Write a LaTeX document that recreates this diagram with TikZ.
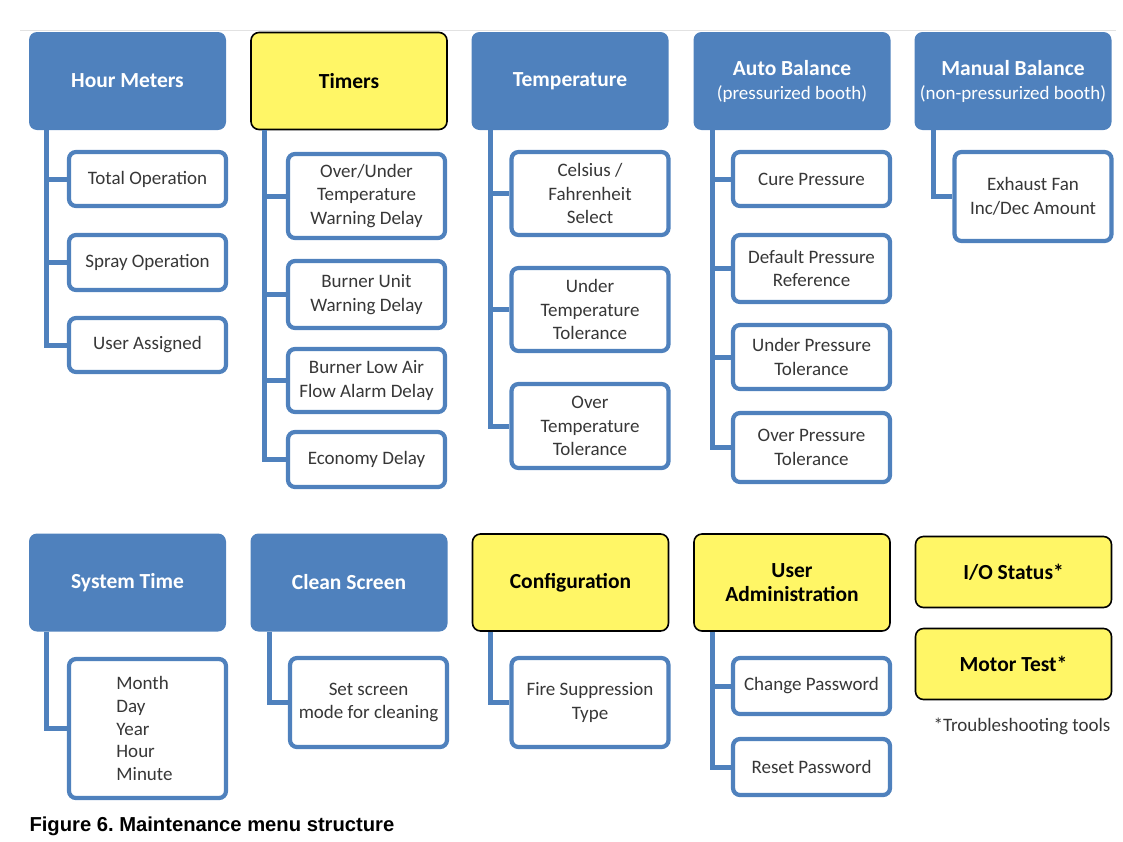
\documentclass[tikz,border=0pt]{standalone}
\usepackage{fontspec}
\setmainfont{Carlito}
\newfontfamily\capfont{Liberation Sans}
\usetikzlibrary{positioning}
\definecolor{menublue}{RGB}{79,129,189}
\definecolor{menuyellow}{RGB}{255,246,102}
\definecolor{itemtext}{RGB}{55,55,55}
\definecolor{edgegray}{RGB}{226,226,226}
\frenchspacing
\begin{document}
\begin{tikzpicture}[x=1pt,y=-1pt]
\tikzset{menu/.style = {shape=rectangle,rounded corners=8pt,fill=menublue,text=white,minimum width=197pt,minimum height=98pt,align=center,font=\fontsize{21.5}{24}\selectfont\bfseries}}
\tikzset{tool/.style = {menu,fill=menuyellow,draw=black,line width=1.6pt,text=black,minimum width=196pt,minimum height=97pt}}
\tikzset{item/.style = {shape=rectangle,rounded corners=7pt,draw=menublue,line width=4.2pt,fill=white,text=itemtext,minimum width=157pt,align=center,font=\fontsize{19}{23.5}\selectfont}}
\tikzset{branch/.style = {draw=menublue,line width=5pt}}
\useasboundingbox (0,0) rectangle (1123,841);
\draw[edgegray,line width=0.8pt] (20,30) -- (1116,30);
% top row menus
\node[menu] (hm) at (127.5,81) {Hour Meters};
\node[tool] (tm) at (349,81) {Timers};
\node[menu] (tp) at (570,81) {Temperature};
\node[menu] (ab) at (792,81) {Auto Balance\\{\mdseries\fontsize{19}{24}\selectfont(pressurized booth)}};
\node[menu] (mb) at (1013,81) {Manual Balance\\{\mdseries\fontsize{19}{24}\selectfont(non-pressurized booth)}};
% top row items
\node[item,minimum height=54pt] (hm1) at (147.5,179) {Total Operation};
\node[item,minimum height=55pt] (hm2) at (147.5,262.5) {Spray Operation};
\node[item,minimum height=54pt] (hm3) at (147.5,345) {User Assigned};

\node[item,minimum height=84pt] (tm1) at (366.5,196) {Over/Under\\Temperature\\Warning Delay};
\node[item,minimum height=67pt] (tm2) at (366.5,294.5) {Burner Unit\\Warning Delay};
\node[item,minimum height=63pt] (tm3) at (366.5,380.5) {Burner Low Air\\Flow Alarm Delay};
\node[item,minimum height=55pt] (tm4) at (366.5,459.5) {Economy Delay};

\node[item,minimum height=83pt] (tp1) at (590,193.5) {Celsius /\\Fahrenheit\\Select};
\node[item,minimum height=83pt] (tp2) at (590,309.5) {Under\\Temperature\\Tolerance};
\node[item,minimum height=84pt] (tp3) at (590,426) {Over\\Temperature\\Tolerance};

\node[item,minimum height=54pt] (ab1) at (811.5,179) {Cure Pressure};
\node[item,minimum height=67pt] (ab2) at (811.5,268.5) {Default Pressure\\Reference};
\node[item,minimum height=64pt] (ab3) at (811.5,357) {Under Pressure\\Tolerance};
\node[item,minimum height=69pt] (ab4) at (811.5,447.5) {Over Pressure\\Tolerance};

\node[item,minimum height=89pt] (mb1) at (1033,196.5) {Exhaust Fan\\Inc/Dec Amount};
% bottom row menus
\node[menu] (st) at (127.5,582.5) {System Time};
\node[menu] (cs) at (349,582.5) {Clean Screen};
\node[tool] (cf) at (570.5,582.5) {Configuration};
\node[tool] (ua) at (792,582.5) {User\\Administration};
\node[tool,minimum height=71pt] (io) at (1013.5,572) {I/O Status*};
\node[tool,minimum height=71pt] (mt) at (1013.5,664) {Motor Test*};
\node[text=itemtext,font=\fontsize{19}{23.5}\selectfont] (note) at (1022,726) {*Troubleshooting tools};
% bottom row items
\node[item,minimum height=139pt,align=left,font=\fontsize{19}{22.7}\selectfont] (st1) at (147.5,728.5) {Month\\Day\\Year\\Hour\\Minute\hspace*{6pt}};
\node[item,minimum height=89pt] (cs1) at (368.5,702.5) {Set screen\\mode for cleaning};
\node[item,minimum height=89pt] (cf1) at (590,702.5) {Fire Suppression\\Type};
\node[item,minimum height=56pt] (ua1) at (811.5,686) {Change Password};
\node[item,minimum height=56pt] (ua2) at (811.5,767) {Reset Password};
% branches
\foreach \m/\c in {hm/hm1,hm/hm2,hm/hm3,st/st1}
  \draw[branch] ([xshift=18pt]\m.south west) |- (\c.west);
\foreach \c in {tm1,tm2,tm3,tm4}
  \draw[branch] ([xshift=14pt]tm.south west) |- (\c.west);
\foreach \m/\c in {tp/tp1,tp/tp2,tp/tp3,ab/ab1,ab/ab2,ab/ab3,ab/ab4,mb/mb1,cs/cs1,cf/cf1,ua/ua1,ua/ua2}
  \draw[branch] ([xshift=19pt]\m.south west) |- (\c.west);

\node[anchor=west,font=\capfont\fontsize{20.2}{24}\selectfont\bfseries] (caption) at (26,826) {Figure 6. Maintenance menu structure};
\end{tikzpicture}
\end{document}
